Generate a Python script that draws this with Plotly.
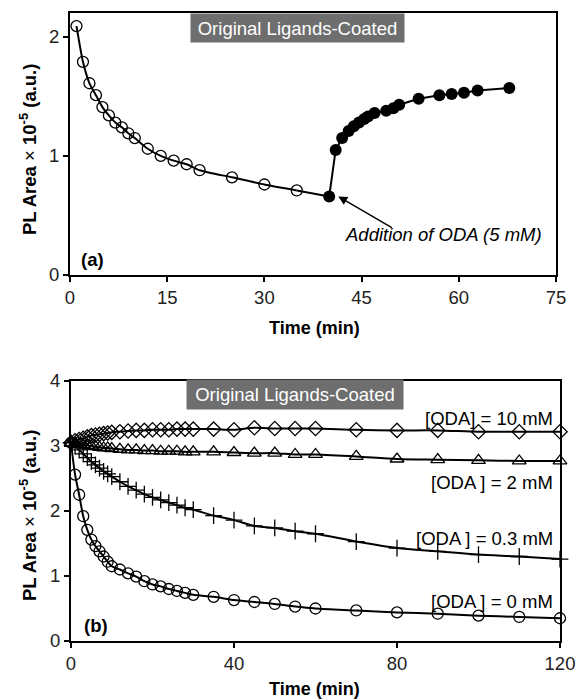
import plotly.graph_objects as go

# ---------------- data: panel (a) ----------------
a_open_t = [1, 2, 3, 4, 5, 6, 7, 8, 9, 10, 12, 14, 16, 18, 20, 25, 30, 35]
a_open_y = [2.09, 1.79, 1.61, 1.51, 1.41, 1.34, 1.28, 1.24, 1.19, 1.15,
            1.06, 1.00, 0.96, 0.93, 0.88, 0.82, 0.76, 0.71]
a_fill_t = [40, 41, 42, 43, 43.8, 44.6, 45.4, 46, 47, 48.8, 49.9, 50.8,
            53.8, 57, 58.9, 60.8, 62.9, 67.8]
a_fill_y = [0.66, 1.05, 1.15, 1.21, 1.25, 1.28, 1.31, 1.33, 1.36, 1.38,
            1.40, 1.43, 1.48, 1.51, 1.52, 1.53, 1.55, 1.57]

# ---------------- data: panel (b) ----------------
b_t = [0, 1, 2, 3, 4, 5, 6, 7, 8, 9, 10, 12, 14, 16, 18, 20, 22, 24, 26, 28, 30,
       35, 40, 45, 50, 55, 60, 70, 80, 90, 100, 110, 120]
b_oda0 = [3.05, 2.56, 2.25, 1.92, 1.71, 1.56, 1.46, 1.38, 1.30, 1.22, 1.15,
          1.10, 1.04, 0.99, 0.92, 0.87, 0.84, 0.80, 0.77, 0.74, 0.71,
          0.68, 0.63, 0.60, 0.57, 0.53, 0.50, 0.47, 0.44, 0.42, 0.39, 0.37, 0.35]
b_oda03 = [3.05, 3.00, 2.94, 2.88, 2.82, 2.76, 2.71, 2.66, 2.61, 2.57, 2.53,
           2.45, 2.38, 2.32, 2.26, 2.21, 2.17, 2.13, 2.09, 2.05, 2.02,
           1.93, 1.86, 1.77, 1.74, 1.69, 1.65, 1.53, 1.43, 1.38, 1.33, 1.30, 1.26]
b_oda2 = [3.05, 3.04, 3.03, 3.02, 3.01, 3.00, 2.99, 2.98, 2.97, 2.97, 2.96,
          2.95, 2.94, 2.94, 2.93, 2.93, 2.92, 2.92, 2.92, 2.91, 2.91,
          2.91, 2.90, 2.89, 2.89, 2.87, 2.87, 2.84, 2.80, 2.79, 2.78, 2.77, 2.77]
b_oda10 = [3.05, 3.08, 3.10, 3.12, 3.14, 3.16, 3.17, 3.18, 3.19, 3.20, 3.21,
           3.22, 3.23, 3.24, 3.24, 3.25, 3.25, 3.25, 3.26, 3.26, 3.26,
           3.26, 3.25, 3.28, 3.27, 3.27, 3.27, 3.25, 3.24, 3.24, 3.22, 3.22, 3.22]

a_xticks = [0, 15, 30, 45, 60, 75]
a_yticks = [0, 1, 2]
b_xticks = [0, 40, 80, 120]
b_yticks = [0, 1, 2, 3, 4]

FONT = "Liberation Sans, Arial, sans-serif"
W, H = 576, 700

fig = go.Figure()

# panel (a)
fig.add_trace(go.Scatter(x=[a_open_t[-1], a_fill_t[0]], y=[a_open_y[-1], a_fill_y[0]],
                         mode="lines", line=dict(color="black", width=2),
                         xaxis="x", yaxis="y", showlegend=False, cliponaxis=False))
fig.add_trace(go.Scatter(x=a_open_t, y=a_open_y, mode="lines+markers",
                         line=dict(color="black", width=2, shape="spline", smoothing=0.6),
                         marker=dict(symbol="circle-open", size=11, color="black",
                                     line=dict(width=1.3, color="black")),
                         xaxis="x", yaxis="y", showlegend=False, cliponaxis=False))
fig.add_trace(go.Scatter(x=a_fill_t, y=a_fill_y, mode="lines+markers",
                         line=dict(color="black", width=2),
                         marker=dict(symbol="circle", size=12, color="black"),
                         xaxis="x", yaxis="y", showlegend=False, cliponaxis=False))

# panel (b)
series_b = [
    (b_oda10, "diamond-open", 11),
    (b_oda2, "triangle-up-open", 12),
    (b_oda03, "cross-thin-open", 12),
    (b_oda0, "circle-open", 11),
]
for vals, sym, sz in series_b:
    fig.add_trace(go.Scatter(x=b_t, y=vals, mode="lines+markers",
                             line=dict(color="black", width=2, shape="spline", smoothing=0.8),
                             marker=dict(symbol=sym, size=sz, color="black",
                                         line=dict(width=1.3, color="black")),
                             xaxis="x2", yaxis="y2", showlegend=False, cliponaxis=False))

# geometry (pixels -> paper)
def px_x(p):
    return p / W

def px_y(p):
    return 1 - p / H

axis_common = dict(showgrid=False, zeroline=False, showline=True, linecolor="black",
                   linewidth=2, mirror=True, ticks="outside", ticklen=5, tickwidth=1.5,
                   tickcolor="black", automargin=False,
                   tickfont=dict(family=FONT, size=18.5, color="#222"))

fig.update_layout(
    template="none",
    width=W, height=H, margin=dict(l=0, r=0, t=0, b=0, pad=0),
    paper_bgcolor="white", plot_bgcolor="white",
    font=dict(family=FONT, size=18.5, color="black"),
    xaxis=dict(domain=[px_x(70), px_x(556)], range=[0, 75], tickvals=a_xticks,
               anchor="y", **axis_common),
    yaxis=dict(domain=[px_y(275), px_y(13)], range=[0, 2.2], tickvals=a_yticks,
               anchor="x", **axis_common),
    xaxis2=dict(domain=[px_x(71), px_x(560)], range=[0, 120], tickvals=b_xticks,
                anchor="y2", **axis_common),
    yaxis2=dict(domain=[px_y(641), px_y(381)], range=[0, 4], tickvals=b_yticks,
                anchor="x2", **axis_common),
)

ann = []
# gray title boxes
ann.append(dict(text="Original Ligands-Coated", xref="paper", yref="paper",
                x=px_x(297.5), y=px_y(28), xanchor="center", yanchor="middle",
                showarrow=False, bgcolor="#6e6e6e", width=211, height=26,
                font=dict(family=FONT, size=18.5, color="white")))
ann.append(dict(text="Original Ligands-Coated", xref="paper", yref="paper",
                x=px_x(295), y=px_y(394.5), xanchor="center", yanchor="middle",
                showarrow=False, bgcolor="#6e6e6e", width=214, height=27,
                font=dict(family=FONT, size=18.5, color="white")))
# panel labels
ann.append(dict(text="<b>(a)</b>", xref="paper", yref="paper", x=px_x(92), y=px_y(259),
                xanchor="center", yanchor="middle", showarrow=False,
                font=dict(family=FONT, size=18.5, color="black")))
ann.append(dict(text="<b>(b)</b>", xref="paper", yref="paper", x=px_x(96), y=px_y(625),
                xanchor="center", yanchor="middle", showarrow=False,
                font=dict(family=FONT, size=18.5, color="black")))
# axis titles
for yc in (328, 689):
    ann.append(dict(text="<b>Time (min)</b>", xref="paper", yref="paper",
                    x=px_x(314), y=px_y(yc), xanchor="center", yanchor="middle",
                    showarrow=False, font=dict(family=FONT, size=18, color="black")))
for yc in (150, 516):
    ann.append(dict(text="<b>PL Area</b> × <b>10<sup>-5</sup> (a.u.)</b>", xref="paper",
                    yref="paper", x=px_x(28), y=px_y(yc), xanchor="center",
                    yanchor="middle", textangle=-90, showarrow=False,
                    font=dict(family=FONT, size=18.5, color="black")))
# arrow and annotation text in panel (a)
ann.append(dict(text="", x=a_fill_t[0] + 1.4, y=a_fill_y[0], xref="x", yref="y",
                showarrow=True, axref="pixel", ayref="pixel", ax=55, ay=32,
                arrowhead=2, arrowsize=1.2, arrowwidth=1.5, arrowcolor="black"))
ann.append(dict(text="<i>Addition of ODA (5 mM)</i>", xref="paper", yref="paper",
                x=px_x(443), y=px_y(234), xanchor="center", yanchor="middle",
                showarrow=False, font=dict(family=FONT, size=18.5, color="black")))
# series labels in panel (b)
labels_b = [("[ODA] = 10 mM", 418), ("[ODA ] = 2 mM", 482),
            ("[ODA ] = 0.3 mM", 538), ("[ODA ] = 0 mM", 601)]
for txt, yc in labels_b:
    ann.append(dict(text=txt, xref="paper", yref="paper", x=px_x(555), y=px_y(yc),
                    xanchor="right", yanchor="middle", showarrow=False,
                    font=dict(family=FONT, size=18.5, color="black")))

fig.update_layout(annotations=ann)
fig.write_html(
    "out.html",
    post_script="document.body.style.margin='0';document.body.style.overflow='hidden';",
)
